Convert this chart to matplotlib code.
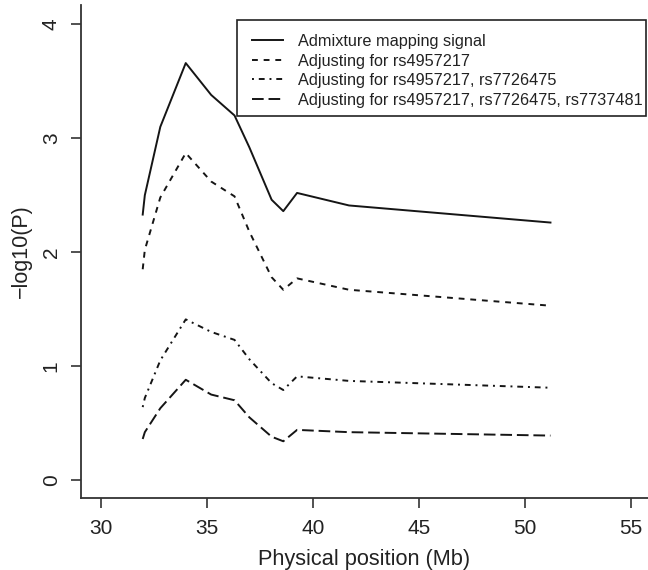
import numpy as np
import matplotlib
matplotlib.use('Agg')
import matplotlib.pyplot as plt
from matplotlib.patches import Rectangle

plt.rcParams['font.family'] = ['Liberation Sans', 'DejaVu Sans']

# physical positions (Mb) shared by all curves
position = np.array([31.97, 32.07, 32.8, 34.0, 35.2, 36.3, 37.0, 38.05, 38.6, 39.25, 41.7, 51.2])

# -log10(P) for each model
admixture = np.array([2.33, 2.50, 3.10, 3.66, 3.38, 3.20, 2.92, 2.46, 2.36, 2.52, 2.41, 2.26])
adj_1 = np.array([1.85, 2.02, 2.48, 2.87, 2.62, 2.49, 2.18, 1.78, 1.67, 1.77, 1.67, 1.53])
adj_2 = np.array([0.64, 0.72, 1.05, 1.41, 1.30, 1.23, 1.06, 0.85, 0.79, 0.91, 0.87, 0.81])
adj_3 = np.array([0.36, 0.42, 0.63, 0.88, 0.75, 0.70, 0.55, 0.38, 0.34, 0.44, 0.42, 0.39])

labels = ['Admixture mapping signal',
          'Adjusting for rs4957217',
          'Adjusting for rs4957217, rs7726475',
          'Adjusting for rs4957217, rs7726475, rs7737481']

W, H = 648, 570
fig = plt.figure(figsize=(W / 100, H / 100), dpi=100)
ax = fig.add_axes([0.125, 0.1263, 0.875, 0.865])

lc = '#151515'
lw = 1.4
ax.plot(position, admixture, color=lc, linewidth=lw, linestyle='-', label=labels[0])
ax.plot(position, adj_1, color=lc, linewidth=lw, dashes=(3, 3), label=labels[1])
ax.plot(position, adj_2, color=lc, linewidth=lw, dashes=(1, 2.5, 3, 2.5), label=labels[2])
ax.plot(position, adj_3, color=lc, linewidth=lw, dashes=(6, 2.5), label=labels[3])

ax.set_xlim(29.06, 55.8)
ax.set_ylim(-0.158, 4.17)
ax.set_xticks([30, 35, 40, 45, 50, 55])
ax.set_yticks([0, 1, 2, 3, 4])

ax.spines['right'].set_visible(False)
ax.spines['top'].set_visible(False)
for s in ['left', 'bottom']:
    ax.spines[s].set_color('#333333')
    ax.spines[s].set_linewidth(1.3)

ax.tick_params(axis='both', direction='out', length=7.5, width=1.2, color='#333333',
               labelsize=15, labelcolor='#222222')
ax.tick_params(axis='x', pad=7.5)
ax.tick_params(axis='y', pad=7)
plt.setp(ax.get_yticklabels(), rotation=90, va='center')

ax.set_xlabel('Physical position (Mb)', fontsize=15.7, color='#222222', labelpad=8)
ax.set_ylabel('\u2212log10(P)', fontsize=15.5, color='#222222', labelpad=7)

# legend without its own frame; R-style box drawn separately (text nearly touches right edge)
leg = ax.legend(loc='upper left', bbox_to_anchor=(252 / W, 1 - 34 / H),
                bbox_transform=fig.transFigure, fontsize=11.7, frameon=False,
                handlelength=1.9, handletextpad=0.93, labelspacing=0.28,
                borderpad=0, borderaxespad=0)
for t in leg.get_texts():
    t.set_color('#222222')

box = Rectangle((237 / W, 1 - 116 / H), (646 - 237) / W, (116 - 20) / H,
                transform=fig.transFigure, fill=False, edgecolor='#222222', linewidth=1.2)
fig.patches.append(box)

plt.savefig('out.png', dpi=100)
